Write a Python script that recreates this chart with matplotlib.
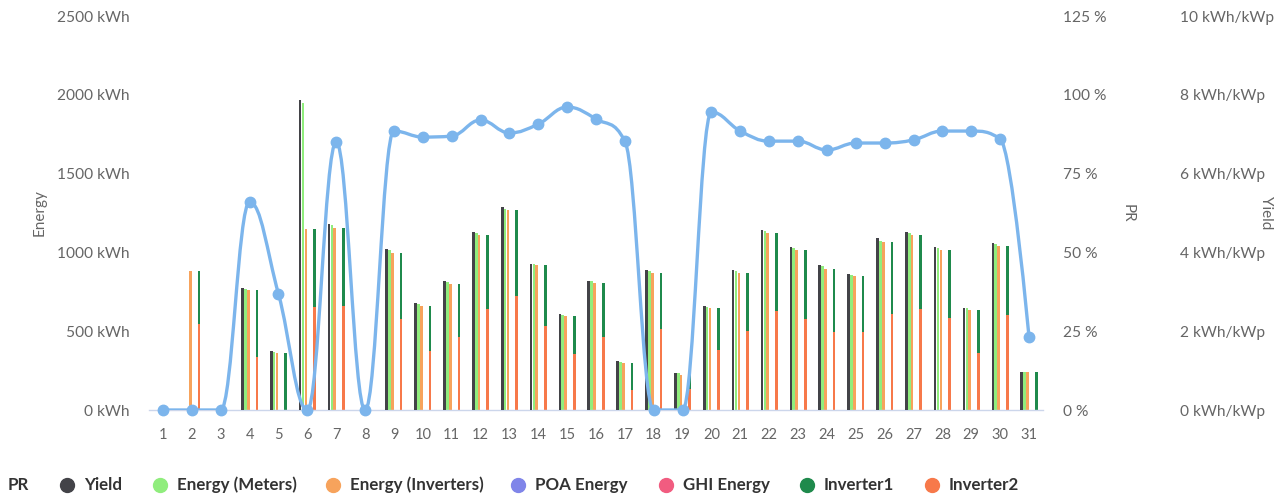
import matplotlib
matplotlib.use("Agg")
import matplotlib.pyplot as plt
import numpy as np
from matplotlib.path import Path
from matplotlib.patches import PathPatch
from matplotlib.lines import Line2D

days = list(range(1, 32))
pr = [0, 0, 0, 66, 36.8, 0, 85, 0, 88.5, 86.6, 86.9, 92, 87.9, 90.7, 96.1, 92.3, 85.3,
      0, 0, 94.5, 88.5, 85.3, 85.3, 82.5, 84.7, 84.7, 85.7, 88.5, 88.5, 86, 23.2]
yield_kwp = [0, 0, 0, 3.09, 1.50, 7.87, 4.71, 0, 4.08, 2.72, 3.27, 4.51, 5.14, 3.71, 2.44,
             3.28, 1.24, 3.55, 0.95, 2.64, 3.55, 4.57, 4.14, 3.68, 3.44, 4.36, 4.52, 4.14,
             2.60, 4.24, 0.97]
energy_meters = [0, 0, 0, 769, 370, 1950, 1172, 0, 1013, 672, 813, 1120, 1277, 925, 604,
                 818, 305, 880, 232, 656, 880, 1138, 1027, 913, 857, 1075, 1124, 1027,
                 645, 1055, 243]
energy_inverters = [0, 884, 0, 761, 364, 1150, 1157, 0, 998, 658, 800, 1110, 1271, 920, 598,
                    808, 296, 867, 222, 649, 867, 1121, 1015, 895, 852, 1064, 1110, 1015,
                    634, 1041, 243]
poa_energy = [0] * 31
ghi_energy = [0] * 31
inverter1 = [0, 340, 0, 423, 364, 496, 497, 0, 423, 282, 335, 471, 548, 387, 243, 343, 169,
             355, 89, 268, 364, 491, 438, 402, 359, 453, 471, 429, 270, 438, 243]
inverter2 = [0, 544, 0, 338, 0, 654, 660, 0, 575, 376, 465, 639, 723, 533, 355, 465, 127,
             512, 133, 381, 503, 630, 577, 493, 493, 611, 639, 586, 364, 603, 0]

energy_ticks = [0, 500, 1000, 1500, 2000, 2500]
pr_ticks = [0, 25, 50, 75, 100, 125]
yield_ticks = [0, 2, 4, 6, 8, 10]

C_PR = "#7cb5ec"
C_YIELD = "#434348"
C_MET = "#90ed7d"
C_INV = "#f7a35c"
C_POA = "#8085e9"
C_GHI = "#f15c80"
C_INV1 = "#1f8a4c"
C_INV2 = "#f7794a"
TXT = "#666666"

plt.rcParams["font.family"] = ["Lato", "DejaVu Sans"]

W, H = 1280, 499
fig = plt.figure(figsize=(W / 100, H / 100), dpi=100)
L, R, B, T = 148.6, 1043.4, 410, 16
ax = fig.add_axes([L / W, 1 - B / H, (R - L) / W, (B - T) / H])
ax_y = ax.twinx()
ax_pr = ax.twinx()

x = np.array(days, dtype=float)
bw = 0.092
offs = [-0.25, -0.15, -0.05, 0.05, 0.15, 0.25]

ax_y.bar(x + offs[0], yield_kwp, width=bw, color=C_YIELD, linewidth=0)
ax.bar(x + offs[1], energy_meters, width=bw, color=C_MET, linewidth=0)
ax.bar(x + offs[2], energy_inverters, width=bw, color=C_INV, linewidth=0)
ax.bar(x + offs[3], poa_energy, width=bw, color=C_POA, linewidth=0)
ax.bar(x + offs[4], ghi_energy, width=bw, color=C_GHI, linewidth=0)
ax.bar(x + offs[5], inverter2, width=bw, color=C_INV2, linewidth=0)
ax.bar(x + offs[5], inverter1, width=bw, bottom=inverter2, color=C_INV1, linewidth=0)

# Highcharts-like spline for PR
def spline_path(xs, ys, smoothing=1.5):
    n = len(xs)
    denom = smoothing + 1
    verts = [(xs[0], ys[0])]
    codes = [Path.MOVETO]
    right_prev = None
    for i in range(1, n):
        px, py = xs[i], ys[i]
        lx, ly = xs[i - 1], ys[i - 1]
        lc = (px, py)
        new_right = None
        if i + 1 < n:
            nx, ny = xs[i + 1], ys[i + 1]
            lcx = (smoothing * px + lx) / denom
            lcy = (smoothing * py + ly) / denom
            rcx = (smoothing * px + nx) / denom
            rcy = (smoothing * py + ny) / denom
            corr = 0
            if rcx != lcx:
                corr = (rcy - lcy) * (rcx - px) / (rcx - lcx) + py - rcy
            lcy += corr
            rcy += corr
            if lcy > ly and lcy > py:
                lcy = max(ly, py); rcy = 2 * py - lcy
            elif lcy < ly and lcy < py:
                lcy = min(ly, py); rcy = 2 * py - lcy
            if rcy > ny and rcy > py:
                rcy = max(ny, py); lcy = 2 * py - rcy
            elif rcy < ny and rcy < py:
                rcy = min(ny, py); lcy = 2 * py - rcy
            lc = (lcx, lcy)
            new_right = (rcx, rcy)
        p1 = right_prev if right_prev is not None else (lx, ly)
        verts += [p1, lc, (px, py)]
        codes += [Path.CURVE4] * 3
        right_prev = new_right
    return Path(verts, codes)

ax_pr.add_patch(PathPatch(spline_path(list(x), pr), fill=False, edgecolor=C_PR,
                          linewidth=2.4, capstyle="round", joinstyle="round", zorder=3))
ax_pr.plot(x, pr, linestyle="none", marker="o", markersize=7.5, color=C_PR, zorder=4,
           clip_on=False)

for a in (ax, ax_y, ax_pr):
    a.set_xlim(0.5, 31.5)
    for s in a.spines.values():
        s.set_visible(False)
    a.patch.set_visible(False)
ax.spines["bottom"].set_visible(True)
ax.spines["bottom"].set_color("#ccd6eb")
ax.spines["bottom"].set_linewidth(1)

ax.set_ylim(0, 2500)
ax_pr.set_ylim(0, 125)
ax_y.set_ylim(0, 10)

ax.set_xticks(days)
ax.set_xticklabels([str(d) for d in days])
ax.tick_params(axis="x", length=0, pad=13, labelsize=10.5, labelcolor=TXT)
ax.set_yticks(energy_ticks)
ax.set_yticklabels([f"{v} kWh" for v in energy_ticks])
ax.tick_params(axis="y", length=0, pad=14, labelsize=11.2, labelcolor=TXT)

ax_pr.set_yticks(pr_ticks)
ax_pr.set_yticklabels([f"{v} %" for v in pr_ticks])
ax_pr.tick_params(axis="y", length=0, pad=14, labelsize=11.2, labelcolor=TXT)

ax_y.spines["right"].set_position(("outward", 84))
ax_y.set_yticks(yield_ticks)
ax_y.set_yticklabels([f"{v} kWh/kWp" for v in yield_ticks])
ax_y.tick_params(axis="y", length=0, pad=14, labelsize=11.2, labelcolor=TXT)

fig.text(40 / W, 1 - 213 / H, "Energy", rotation=90, ha="center", va="center",
         fontsize=11, color=TXT)
fig.text(1128 / W, 1 - 213 / H, "PR", rotation=270, ha="center", va="center",
         fontsize=11, color=TXT)
fig.text(1266 / W, 1 - 213 / H, "Yield", rotation=270, ha="center", va="center",
         fontsize=11, color=TXT)

# Legend
legend_items = [("PR", None, 8), ("Yield", C_YIELD, 84), ("Energy (Meters)", C_MET, 177),
                ("Energy (Inverters)", C_INV, 350), ("POA Energy", C_POA, 535),
                ("GHI Energy", C_GHI, 683), ("Inverter1", C_INV1, 824),
                ("Inverter2", C_INV2, 949)]
ly = 1 - 485 / H
for label, col, tx in legend_items:
    if col is not None:
        fig.add_artist(Line2D([(tx - 17) / W], [ly], marker="o", markersize=10,
                              color=col, linestyle="none", transform=fig.transFigure))
    fig.text(tx / W, ly, label, ha="left", va="center", fontsize=12.2,
             fontweight="bold", color="#333333")

fig.savefig("out.png", dpi=100)
